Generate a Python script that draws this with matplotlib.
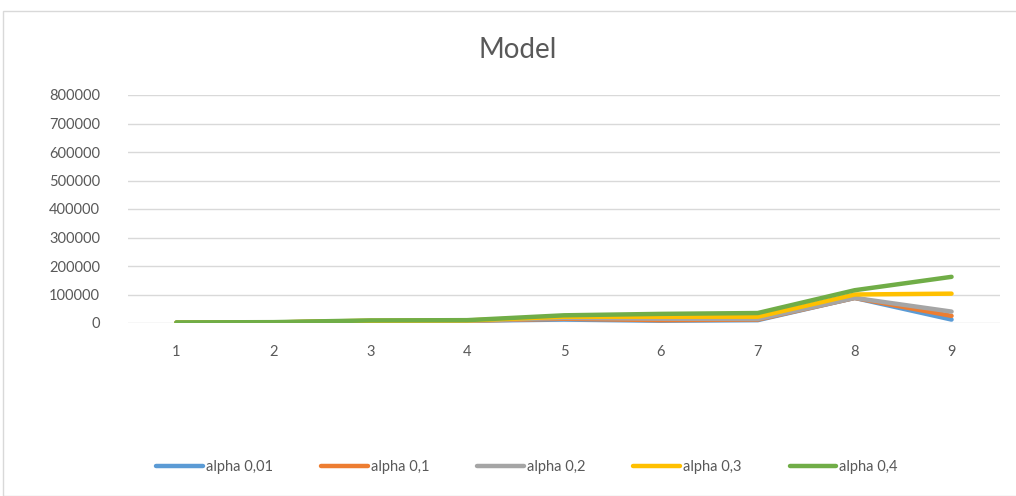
import matplotlib
matplotlib.use("Agg")
import matplotlib.pyplot as plt
from matplotlib.patches import Rectangle

categories = [1, 2, 3, 4, 5, 6, 7, 8, 9]
series_names = ["alpha 0,01", "alpha 0,1", "alpha 0,2", "alpha 0,3", "alpha 0,4"]
alpha_001 = [1000, 2000, 5000, 8000, 12000, 8000, 10000, 88000, 12000]
alpha_01 = [1000, 2000, 6000, 8000, 15000, 10000, 12000, 88000, 25000]
alpha_02 = [1000, 2000, 7000, 8000, 18000, 15000, 14000, 88000, 40000]
alpha_03 = [1000, 2000, 8000, 9000, 22000, 22000, 22000, 100000, 103000]
alpha_04 = [2000, 3000, 9000, 10000, 27000, 32000, 35000, 115000, 162000]
colors = ["#5B9BD5", "#ED7D31", "#A5A5A5", "#FFC000", "#70AD47"]
yticks = [0, 100000, 200000, 300000, 400000, 500000, 600000, 700000, 800000]

plt.rcParams['font.family'] = ['Lato', 'DejaVu Sans']
fig = plt.figure(figsize=(10.16, 4.96), dpi=100)
fig.patches.append(Rectangle((3/1016, 0.0), 1.0, 1 - 11/496, transform=fig.transFigure,
                             fill=False, edgecolor="#D9D9D9", linewidth=1.0))
ax = fig.add_axes([128/1016, 1 - 323/496, (1000 - 128)/1016, (323 - 95)/496])

data = [alpha_001, alpha_01, alpha_02, alpha_03, alpha_04]
for name, vals, c in zip(series_names, data, colors):
    ax.plot(categories, vals, color=c, linewidth=3.2, label=name,
            solid_capstyle='round', solid_joinstyle='round')

ax.set_xlim(0.5, 9.5)
ax.set_ylim(0, 800000)
ax.set_yticks(yticks)
ax.set_yticklabels([str(v) for v in yticks])
ax.set_xticks(categories)
ax.set_xticklabels([str(c) for c in categories])
ax.grid(axis='y', color="#D9D9D9", linewidth=1.0)
ax.set_axisbelow(True)
for s in ax.spines.values():
    s.set_visible(False)
ax.tick_params(axis='both', length=0, colors="#595959", labelsize=10.5)
ax.tick_params(axis='y', pad=20)
ax.tick_params(axis='x', pad=16)

fig.text(518/1016, 1 - 50/496, "Model", ha='center', va='center', fontsize=20, color="#595959")

fig.legend(loc='center', bbox_to_anchor=(527/1016, 1 - 467/496), ncol=5, frameon=False,
           fontsize=10.5, labelcolor="#595959", handlelength=3.2, columnspacing=3.3,
           handletextpad=0.2)

fig.savefig("out.png", dpi=100)
